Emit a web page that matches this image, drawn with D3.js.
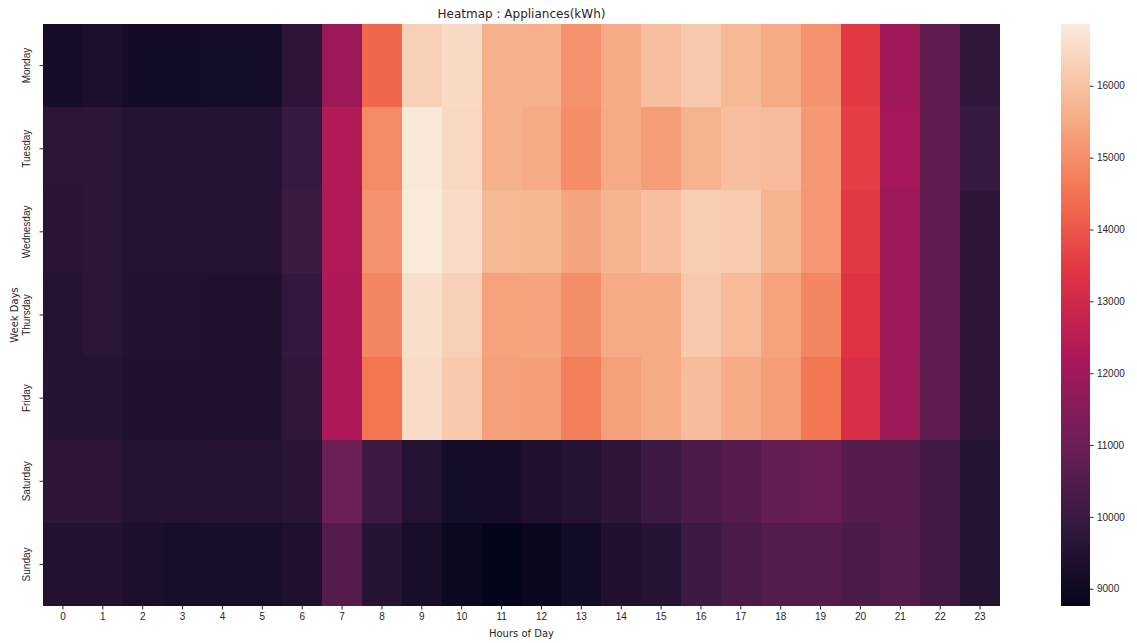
<!DOCTYPE html>
<html>
<head>
<meta charset="utf-8">
<script src="https://cdn.jsdelivr.net/npm/d3@7"></script>
<style>
  html, body { margin: 0; padding: 0; background: #ffffff; }
  svg { display: block; font-family: "DejaVu Sans", sans-serif; }
  .tick text { fill: #262626; font-size: 10px; }
  .tick line { stroke: #262626; }
  .domain { display: none; }
</style>
</head>
<body>
<svg id="chart" width="1137" height="643"></svg>
<script>
// Average appliance energy use by weekday and hour
const days = ["Monday", "Tuesday", "Wednesday", "Thursday", "Friday", "Saturday", "Sunday"];
const hours = ["0","1","2","3","4","5","6","7","8","9","10","11","12","13","14","15","16","17","18","19","20","21","22","23"];

const monday    = [9250, 9330, 9150, 9160, 9180, 9170, 9700, 11900, 14300, 16290, 16500, 15630, 15650, 15070, 15530, 15940, 16140, 15810, 15490, 15060, 13500, 12000, 10740, 9780];
const tuesday   = [9680, 9720, 9500, 9500, 9510, 9490, 9940, 12310, 14940, 16790, 16460, 15630, 15530, 14980, 15500, 15280, 15690, 15940, 15880, 15180, 13600, 12090, 10740, 9940];
const wednesday = [9640, 9720, 9500, 9560, 9580, 9580, 10030, 12310, 15080, 16860, 16540, 15810, 15760, 15430, 15720, 15930, 16230, 16160, 15710, 15170, 13500, 11950, 10750, 9750];
const thursday  = [9580, 9680, 9480, 9480, 9440, 9450, 9870, 12300, 14840, 16610, 16290, 15370, 15410, 15000, 15540, 15540, 16140, 15860, 15370, 14850, 13350, 11950, 10750, 9750];
const friday    = [9600, 9580, 9430, 9430, 9430, 9430, 9780, 12270, 14540, 16540, 16140, 15330, 15290, 14720, 15330, 15510, 15880, 15540, 15270, 14570, 13180, 11900, 10760, 9760];
const saturday  = [9700, 9700, 9500, 9500, 9560, 9580, 9650, 10980, 10090, 9500, 9170, 9230, 9400, 9580, 9750, 10080, 10390, 10540, 10820, 10910, 10570, 10570, 10190, 9530];
const sunday    = [9480, 9480, 9320, 9280, 9280, 9280, 9400, 10540, 9600, 9280, 8960, 8760, 8880, 9150, 9450, 9560, 10080, 10330, 10500, 10500, 10390, 10500, 10150, 9500];

const colorbarTicks = [9000, 10000, 11000, 12000, 13000, 14000, 15000, 16000];

const rows = [monday, tuesday, wednesday, thursday, friday, saturday, sunday];
const cells = [];
rows.forEach((vals, r) => vals.forEach((v, c) => cells.push({ day: days[r], hour: hours[c], value: v })));

// "rocket" colour map, approximated by evenly spaced stops
const rocketStops = ["#03051a", "#35193e", "#701f57", "#ad1759", "#e13342", "#f37651", "#f6b48f", "#faebdd"];
const rocket = d3.scaleLinear()
  .domain(rocketStops.map((_, i) => i / (rocketStops.length - 1)))
  .range(rocketStops)
  .interpolate(d3.interpolateRgb)
  .clamp(true);

const extent = d3.extent(cells, d => d.value);
const norm = d3.scaleLinear().domain(extent).range([0, 1]);
const color = v => rocket(norm(v));

const svg = d3.select("#chart");
const plot = { left: 43, top: 24, right: 1000, bottom: 606 };

const x = d3.scaleBand().domain(hours).range([plot.left, plot.right]);
const y = d3.scaleBand().domain(days).range([plot.top, plot.bottom]);

svg.append("g")
  .selectAll("rect")
  .data(cells)
  .join("rect")
  .attr("x", d => x(d.hour))
  .attr("y", d => y(d.day))
  .attr("width", x.bandwidth() + 0.4)
  .attr("height", y.bandwidth() + 0.4)
  .attr("fill", d => color(d.value))
  .attr("shape-rendering", "crispEdges");

// Axes
const xAxis = svg.append("g")
  .attr("transform", `translate(0,${plot.bottom})`)
  .call(d3.axisBottom(x).tickSize(3.5).tickPadding(3.5));

const yAxis = svg.append("g")
  .attr("transform", `translate(${plot.left},0)`)
  .call(d3.axisLeft(y).tickSize(3.5).tickPadding(3.5));
yAxis.selectAll(".tick text")
  .attr("text-anchor", "middle")
  .attr("x", 0)
  .attr("dy", 0)
  .attr("transform", "translate(-13,0) rotate(-90)");

// Titles
svg.append("text")
  .attr("x", (plot.left + plot.right) / 2)
  .attr("y", 18)
  .attr("text-anchor", "middle")
  .attr("fill", "#262626")
  .attr("font-size", 12)
  .text("Heatmap : Appliances(kWh)");

svg.append("text")
  .attr("x", (plot.left + plot.right) / 2)
  .attr("y", 637)
  .attr("text-anchor", "middle")
  .attr("fill", "#262626")
  .attr("font-size", 10)
  .text("Hours of Day");

svg.append("text")
  .attr("transform", `translate(18,${(plot.top + plot.bottom) / 2}) rotate(-90)`)
  .attr("text-anchor", "middle")
  .attr("fill", "#262626")
  .attr("font-size", 10)
  .text("Week Days");

// Colour bar
const cb = { left: 1061, width: 29, top: plot.top, bottom: plot.bottom };
const cbScale = d3.scaleLinear().domain(extent).range([cb.bottom, cb.top]);

const grad = svg.append("defs").append("linearGradient")
  .attr("id", "cbGrad")
  .attr("x1", 0).attr("y1", 1).attr("x2", 0).attr("y2", 0);
d3.range(0, 1.0001, 0.02).forEach(t => {
  grad.append("stop").attr("offset", t).attr("stop-color", rocket(t));
});

svg.append("rect")
  .attr("x", cb.left)
  .attr("y", cb.top)
  .attr("width", cb.width)
  .attr("height", cb.bottom - cb.top)
  .attr("fill", "url(#cbGrad)");

svg.append("g")
  .attr("transform", `translate(${cb.left + cb.width},0)`)
  .call(d3.axisRight(cbScale).tickValues(colorbarTicks).tickFormat(d3.format("d")).tickSize(3.5).tickPadding(3.5));
</script>
</body>
</html>
